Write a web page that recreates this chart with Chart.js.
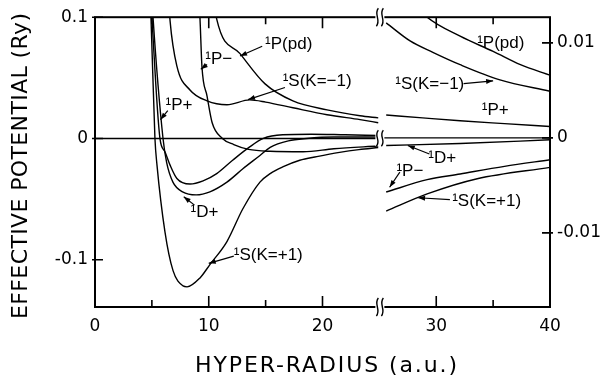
<!DOCTYPE html>
<html><head><meta charset="utf-8">
<script src="https://cdn.jsdelivr.net/npm/chart.js@4"></script>
<style>html,body{margin:0;padding:0;background:#fff}#wrap{width:600px;height:381px}</style>
</head><body><div id="wrap"><canvas id="c" width="600" height="381"></canvas></div>
<script>
// ---------- data (hyper-radius in a.u., effective potential in Ry) ----------
// left panel (0..25), left axis
const sKp1LeftX = [4.80, 4.92, 5.27, 5.45, 6.15, 6.86, 7.74, 8.09, 9.23, 10.1, 11.6, 13.0, 14.5, 15.4, 16.5, 18.0, 19.5, 21.5, 23.2, 24.9];
const sKp1LeftY = [0.125, 0.1, 0.0, -0.022, -0.077, -0.109, -0.1216, -0.1224, -0.115, -0.104, -0.085, -0.058, -0.036, -0.029, -0.0235, -0.018, -0.015, -0.0115, -0.0092, -0.0075];
const pPlusLeftX = [4.85, 5.0, 5.71, 6.15, 6.6, 7.2, 8.35, 9.5, 10.7, 12.1, 13.6, 14.8, 16.5, 19.0, 22.0, 24.9];
const pPlusLeftY = [0.125, 0.1, 0.0, -0.011, -0.022, -0.033, -0.0376, -0.035, -0.029, -0.018, -0.007, 0.0, 0.003, 0.0035, 0.003, 0.0025];
const dPlusLeftX = [4.95, 5.1, 5.98, 6.3, 6.85, 7.7, 8.9, 10.1, 11.6, 13.0, 14.5, 15.4, 17.0, 18.6, 21.0, 24.9];
const dPlusLeftY = [0.125, 0.1, 0.0, -0.02, -0.036, -0.044, -0.0465, -0.044, -0.036, -0.025, -0.014, -0.0073, -0.002, 0.0, 0.0012, 0.0012];
const sKm1LeftX = [6.45, 6.6, 7.2, 8.35, 9.85, 11.6, 13.6, 15.0, 17.4, 20.4, 23.3, 24.9];
const sKm1LeftY = [0.12, 0.097, 0.0596, 0.040, 0.031, 0.0278, 0.0318, 0.0300, 0.0253, 0.0196, 0.0155, 0.013];
const pMinusLeftX = [9.1, 9.23, 9.4, 9.85, 10.3, 11.2, 12.2, 13.5, 15.4, 18.3, 21.0, 24.9];
const pMinusLeftY = [0.12, 0.099, 0.0596, 0.035, 0.013, 0.0, -0.005, -0.009, -0.0106, -0.011, -0.0085, -0.0062];
const pPdLeftX = [10.4, 10.7, 12.75, 14.95, 17.4, 20.4, 23.3, 24.9];
const pPdLeftY = [0.12, 0.0984, 0.070, 0.045, 0.031, 0.0236, 0.0187, 0.017];
// right panel (25..40), right axis (expanded scale)
const pPdRightX = [27.0, 29.2, 32.1, 35.0, 37.4, 40.0];
const pPdRightY = [0.0155, 0.0127, 0.0107, 0.0091, 0.0077, 0.0066];
const sKm1RightX = [25.6, 27.7, 29.7, 32.1, 35.6, 40.0];
const sKm1RightY = [0.0121, 0.0102, 0.0090, 0.0077, 0.0061, 0.0049];
const pPlusRightX = [25.6, 28.8, 32.1, 36.0, 40.0];
const pPlusRightY = [0.0024, 0.0021, 0.0018, 0.0015, 0.0012];
const dPlusRightX = [25.6, 32.1, 40.0];
const dPlusRightY = [-0.0008, -0.0006, -0.0002];
const pMinusRightX = [25.6, 29.2, 32.1, 36.0, 40.0];
const pMinusRightY = [-0.0057, -0.0044, -0.0038, -0.0030, -0.0023];
const sKp1RightX = [25.6, 29.2, 33.6, 40.0];
const sKp1RightY = [-0.0077, -0.0059, -0.0043, -0.0031];

// axes
const xTicksMajor = [0, 10, 20, 30, 40];
const xTicksMinor = [5, 15, 35];
const breakX = 25;
const leftTicks = [-0.1, 0, 0.1];
const leftTickLabels = ['-0.1', '0', '0.1'];
const rightTicks = [-0.01, 0, 0.01];
const rightTickLabels = ['-0.01', '0', '0.01'];
const xTitle = 'HYPER-RADIUS (a.u.)';
const yTitle = 'EFFECTIVE POTENTIAL (Ry)';

// curve labels: [text, x, y, axis, arrowFromX, arrowFromY, arrowToX, arrowToY]
const curveLabels = [
  ['¹P(pd)', 14.95, 0.078, 'y', 14.7, 0.076, 12.75, 0.068],
  ['¹P−', 9.7, 0.065, 'y', 9.85, 0.061, 9.3, 0.057],
  ['¹S(K=−1)', 16.5, 0.047, 'y', 16.7, 0.042, 13.45, 0.032],
  ['¹P+', 6.2, 0.027, 'y', 6.4, 0.023, 5.75, 0.0155],
  ['¹D+', 8.4, -0.061, 'y', 8.75, -0.055, 7.8, -0.048],
  ['¹S(K=+1)', 12.2, -0.096, 'y', 12.2, -0.097, 10.0, -0.103],
  ['¹P(pd)', 33.6, 0.0099, 'y2', null, null, null, null],
  ['¹S(K=−1)', 26.4, 0.0056, 'y2', 32.4, 0.0057, 35.0, 0.0060],
  ['¹P+', 34.0, 0.0029, 'y2', null, null, null, null],
  ['¹D+', 29.3, -0.0022, 'y2', 29.4, -0.0017, 27.5, -0.0008],
  ['¹P−', 26.5, -0.0035, 'y2', 26.8, -0.0036, 25.9, -0.0052],
  ['¹S(K=+1)', 31.4, -0.0067, 'y2', 31.2, -0.0065, 28.4, -0.0063]
];

const zip = (xs, ys) => xs.map((v, i) => ({x: v, y: ys[i]}));
const mk = (xs, ys, axis) => ({data: zip(xs, ys), yAxisID: axis, showLine: true,
  borderColor: '#000', borderWidth: 1.4, pointRadius: 0, cubicInterpolationMode: 'monotone', fill: false});

const datasets = [
  mk(sKp1LeftX, sKp1LeftY, 'y'), mk(pPlusLeftX, pPlusLeftY, 'y'), mk(dPlusLeftX, dPlusLeftY, 'y'),
  mk(sKm1LeftX, sKm1LeftY, 'y'), mk(pMinusLeftX, pMinusLeftY, 'y'), mk(pPdLeftX, pPdLeftY, 'y'),
  mk(pPdRightX, pPdRightY, 'y2'), mk(sKm1RightX, sKm1RightY, 'y2'), mk(pPlusRightX, pPlusRightY, 'y2'),
  mk(dPlusRightX, dPlusRightY, 'y2'), mk(pMinusRightX, pMinusRightY, 'y2'), mk(sKp1RightX, sKp1RightY, 'y2')
];

const FONT = 'DejaVu Sans';
const LABEL_FONT = 'Liberation Sans';

function spacedText(ctx, text, cx, cy, targetW) {
  const w = ctx.measureText(text).width;
  let ls = (targetW - w) / (text.length - 1);
  if ('letterSpacing' in ctx) {
    ctx.letterSpacing = ls + 'px';
    const w2 = ctx.measureText(text).width;
    ctx.textAlign = 'left';
    ctx.fillText(text, cx - w2 / 2 + ls / 2, cy);
    ctx.letterSpacing = '0px';
  } else {
    ctx.textAlign = 'center';
    ctx.fillText(text, cx, cy);
  }
}

function squiggle(ctx, px, py, h) {
  ctx.fillStyle = '#fff';
  ctx.fillRect(px - 4, py - h / 2, 9, h);
  ctx.strokeStyle = '#000';
  ctx.lineWidth = 1.4;
  for (const dx of [-2, 3]) {
    ctx.beginPath();
    ctx.moveTo(px + dx + 1, py - h / 2);
    ctx.bezierCurveTo(px + dx - 4, py - h / 6, px + dx + 4, py + h / 6, px + dx - 1, py + h / 2);
    ctx.stroke();
  }
}

const decor = {
  id: 'decor',
  afterDatasetsDraw(chart) {
    const {ctx, chartArea: a, scales} = chart;
    const x = scales.x, y = scales.y, y2 = scales.y2;
    ctx.save();
    ctx.strokeStyle = '#000';
    ctx.fillStyle = '#000';
    // zero lines
    ctx.lineWidth = 1.4;
    ctx.beginPath();
    ctx.moveTo(a.left, y.getPixelForValue(0));
    ctx.lineTo(x.getPixelForValue(breakX), y.getPixelForValue(0));
    ctx.moveTo(x.getPixelForValue(breakX), y2.getPixelForValue(0));
    ctx.lineTo(a.right, y2.getPixelForValue(0));
    ctx.stroke();
    // frame
    ctx.lineWidth = 2;
    ctx.strokeRect(a.left, a.top, a.right - a.left, a.bottom - a.top);
    // x ticks (inward, top and bottom)
    ctx.lineWidth = 1.6;
    ctx.beginPath();
    for (const t of xTicksMajor.concat(xTicksMinor)) {
      const len = xTicksMajor.includes(t) ? 11 : 7;
      const px = x.getPixelForValue(t);
      if (t === 0 || t === 40) continue;
      ctx.moveTo(px, a.bottom); ctx.lineTo(px, a.bottom - len);
      ctx.moveTo(px, a.top); ctx.lineTo(px, a.top + len);
    }
    // y ticks
    for (const t of leftTicks) {
      const py = y.getPixelForValue(t);
      ctx.moveTo(a.left - 3, py); ctx.lineTo(a.left + 8, py);
    }
    for (const t of rightTicks) {
      const py = y2.getPixelForValue(t);
      ctx.moveTo(a.right - 8, py); ctx.lineTo(a.right + 3, py);
    }
    ctx.stroke();
    // break marks
    const bx = x.getPixelForValue(breakX);
    squiggle(ctx, bx, a.top, 18);
    squiggle(ctx, bx, a.bottom, 18);
    squiggle(ctx, bx, (y.getPixelForValue(0) + y2.getPixelForValue(0)) / 2, 16);
    // curve labels
    ctx.fillStyle = '#000';
    ctx.strokeStyle = '#000';
    ctx.font = '17px "' + LABEL_FONT + '"';
    ctx.textAlign = 'left';
    ctx.textBaseline = 'middle';
    for (const L of curveLabels) {
      const sc = L[3] === 'y' ? y : y2;
      ctx.fillText(L[0], x.getPixelForValue(L[1]), sc.getPixelForValue(L[2]));
      if (L[4] !== null) {
        const x1 = x.getPixelForValue(L[4]), y1 = sc.getPixelForValue(L[5]);
        const x2 = x.getPixelForValue(L[6]), y2p = sc.getPixelForValue(L[7]);
        ctx.lineWidth = 1.2;
        ctx.beginPath(); ctx.moveTo(x1, y1); ctx.lineTo(x2, y2p); ctx.stroke();
        const ang = Math.atan2(y2p - y1, x2 - x1);
        ctx.beginPath();
        ctx.moveTo(x2, y2p);
        ctx.lineTo(x2 - 7 * Math.cos(ang) + 2.5 * Math.sin(ang), y2p - 7 * Math.sin(ang) - 2.5 * Math.cos(ang));
        ctx.lineTo(x2 - 7 * Math.cos(ang) - 2.5 * Math.sin(ang), y2p - 7 * Math.sin(ang) + 2.5 * Math.cos(ang));
        ctx.closePath(); ctx.fill();
      }
    }
    // axis titles
    ctx.font = '22px "' + FONT + '"';
    ctx.textBaseline = 'middle';
    spacedText(ctx, xTitle, 326, 366, 262);
    ctx.save();
    ctx.translate(21, 166);
    ctx.rotate(-Math.PI / 2);
    spacedText(ctx, yTitle, 0, 0, 306);
    ctx.restore();
    ctx.restore();
  }
};

const tickFont = {family: FONT, size: 17};
new Chart(document.getElementById('c'), {
  type: 'scatter',
  data: {datasets},
  options: {
    responsive: false, animation: false, devicePixelRatio: 1,
    layout: {padding: {top: 14, left: 0, right: 0, bottom: 0}},
    plugins: {legend: {display: false}, tooltip: {enabled: false}},
    scales: {
      x: {type: 'linear', min: 0, max: 40,
        afterFit(s) { s.height = 74; },
        afterBuildTicks(s) { s.ticks = xTicksMajor.map(v => ({value: v})); },
        ticks: {color: '#000', font: tickFont, padding: 9, autoSkip: false, maxRotation: 0, callback: v => String(v)},
        grid: {display: false, drawTicks: false}, border: {display: false}},
      y: {type: 'linear', position: 'left', min: -0.139, max: 0.1,
        afterFit(s) { s.width = 95; },
        afterBuildTicks(s) { s.ticks = leftTicks.map(v => ({value: v})); },
        ticks: {color: '#000', font: tickFont, padding: 7, callback: (v, i) => leftTickLabels[i]},
        grid: {display: false, drawTicks: false}, border: {display: false}},
      y2: {type: 'linear', position: 'right', min: -0.0178, max: 0.0127,
        afterFit(s) { s.width = 50; },
        afterBuildTicks(s) { s.ticks = rightTicks.map(v => ({value: v})); },
        ticks: {color: '#000', font: tickFont, padding: 7, callback: (v, i) => rightTickLabels[i]},
        grid: {display: false, drawTicks: false}, border: {display: false}}
    }
  },
  plugins: [decor]
});
</script>
</body></html>
